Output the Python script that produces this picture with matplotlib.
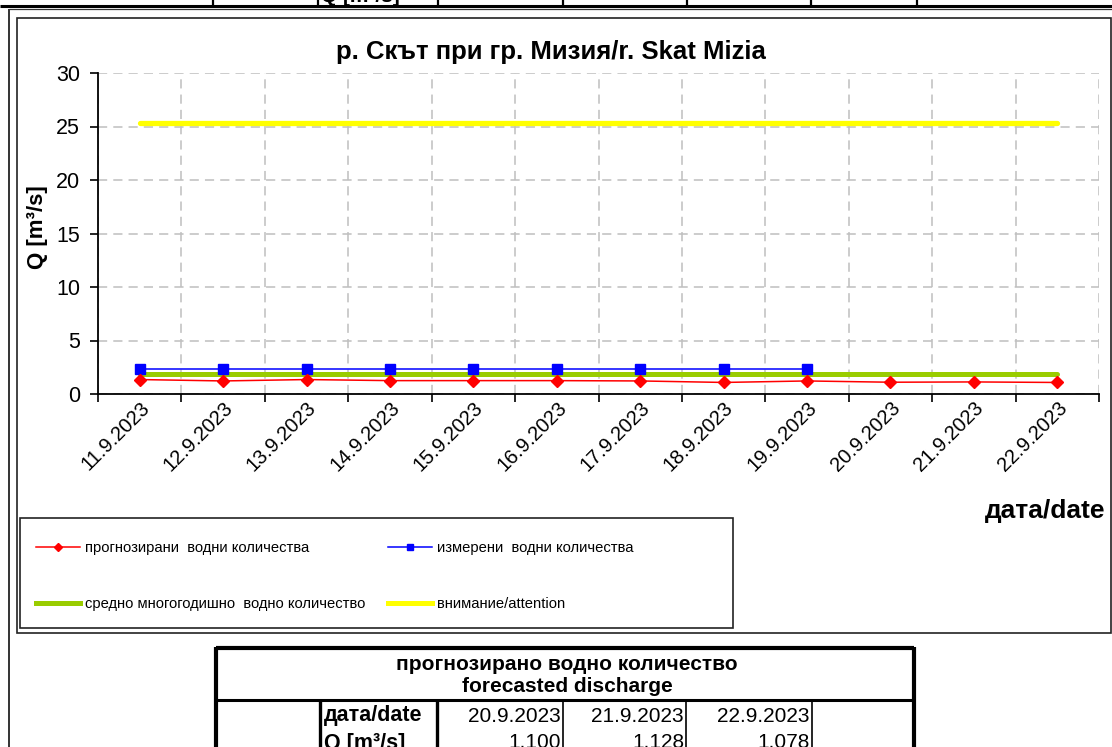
import matplotlib
matplotlib.use("Agg")
import matplotlib.pyplot as plt
from matplotlib.lines import Line2D
from matplotlib.patches import Rectangle

plt.rcParams['font.family'] = ['Liberation Sans', 'DejaVu Sans']

# --- DATOS ---
FECHAS = ["11.9.2023", "12.9.2023", "13.9.2023", "14.9.2023", "15.9.2023", "16.9.2023",
          "17.9.2023", "18.9.2023", "19.9.2023", "20.9.2023", "21.9.2023", "22.9.2023"]
PRONOSTICO = [1.35, 1.22, 1.35, 1.25, 1.25, 1.25, 1.22, 1.08, 1.22, 1.100, 1.128, 1.078]
MEDIDO = [2.3, 2.3, 2.3, 2.3, 2.3, 2.3, 2.3, 2.3, 2.3]
PROMEDIO = 1.85
ATENCION = 25.3
FECHAS_TABLA = ["20.9.2023", "21.9.2023", "22.9.2023"]
Q_TABLA = ["1.100", "1.128", "1.078"]

W, H = 1112, 747


def fx(x):
    return x / W


def fy(y):
    return 1 - y / H


def linea(fig, x0, y0, x1, y1, lw=1.0, color='black'):
    fig.add_artist(Line2D([fx(x0), fx(x1)], [fy(y0), fy(y1)], lw=lw, color=color,
                          transform=fig.transFigure, solid_capstyle='butt'))


fig = plt.figure(figsize=(W / 100, H / 100), dpi=100)

# --- marcos / tabla superior recortada ---
linea(fig, 0, 5.5, W, 5.5, lw=2.2)
for x in [213, 318, 438, 563, 687, 811, 917]:
    linea(fig, x, 0, x, 5.5, lw=1.6)
fig.text(fx(321), fy(2.0), "Q [m³/s]", fontsize=15, fontweight='bold', va='baseline')
linea(fig, 9, 8.5, W, 8.5, lw=0.9, color='#333333')
linea(fig, 9, 8.5, 9, H, lw=1.4, color='#333333')
fig.add_artist(Rectangle((fx(16.5), fy(633)), fx(1111 - 16.5), (633 - 18) / H,
                         fill=False, lw=1.2, edgecolor='#222222', transform=fig.transFigure))

# --- grafico ---
ax = fig.add_axes([fx(98), fy(394), fx(1001), 321 / H])
x = list(range(len(FECHAS)))
ax.plot(x, [ATENCION] * len(x), color='#FFFF00', lw=3.8, solid_capstyle='round', zorder=3)
ax.plot(x, [PROMEDIO] * len(x), color='#99CC00', lw=3.6, solid_capstyle='round', zorder=3)
ax.plot(x[:len(MEDIDO)], MEDIDO, color='#0000FF', lw=1.1, marker='s', ms=7, zorder=4)
ax.plot(x, PRONOSTICO, color='#FF0000', lw=1.1, marker='D', ms=6, zorder=5)

ax.set_xlim(-0.5, len(FECHAS) - 0.5)
ax.set_ylim(0, 30)
ax.set_yticks(range(0, 31, 5))
ax.set_xticks([i - 0.5 for i in range(len(FECHAS) + 1)])
ax.set_xticklabels([])
ax.set_xticks(x, minor=True)
ax.set_xticklabels(FECHAS, minor=True, rotation=45, ha='right', va='top',
                   rotation_mode='anchor', fontsize=14.5)
ax.tick_params(axis='x', which='major', length=6, width=1.2, direction='out')
ax.tick_params(axis='x', which='minor', length=0, pad=3)
ax.tick_params(axis='y', length=6, width=1.2, direction='out', labelsize=15.5, pad=7)
ax.grid(True, which='major', color='#BFBFBF', linestyle=(0, (6, 4)), lw=1.1)
for s in ['top', 'right']:
    ax.spines[s].set_visible(False)
for s in ['left', 'bottom']:
    ax.spines[s].set_linewidth(1.3)
ax.set_axisbelow(True)

fig.text(fx(551), fy(52), "р. Скът при гр. Мизия/r. Skat Mizia", fontsize=18.5,
         fontweight='bold', ha='center', va='center')
fig.text(fx(37), fy(227), "Q [m³/s]", fontsize=16, fontweight='bold', rotation=90,
         ha='center', va='center')
fig.text(fx(1105), fy(511), "дата/date", fontsize=19, fontweight='bold', ha='right', va='center')

# --- leyenda ---
fig.add_artist(Rectangle((fx(20), fy(628)), fx(733 - 20), (628 - 518) / H,
                         fill=False, lw=1.2, edgecolor='#222222', transform=fig.transFigure))
h_rojo = Line2D([], [], color='#FF0000', lw=1.1, marker='D', ms=4)
h_azul = Line2D([], [], color='#0000FF', lw=1.1, marker='s', ms=5)
h_verde = Line2D([], [], color='#99CC00', lw=3.6)
h_amar = Line2D([], [], color='#FFFF00', lw=3.6)
kw = dict(frameon=False, fontsize=10.6, handlelength=3.0, handletextpad=0.3,
          labelspacing=2.85, borderpad=0, loc='upper left', borderaxespad=0)
leg1 = fig.legend([h_rojo, h_verde], ["прогнозирани  водни количества",
                                      "средно многогодишно  водно количество"],
                  bbox_to_anchor=(fx(36), fy(541)), **kw)
leg2 = fig.legend([h_azul, h_amar], ["измерени  водни количества", "внимание/attention"],
                  bbox_to_anchor=(fx(388), fy(541)), **kw)

# --- tabla inferior ---
linea(fig, 216, 648, 914, 648, lw=3)
linea(fig, 216, 646.5, 216, H, lw=3)
linea(fig, 914, 646.5, 914, H, lw=3)
linea(fig, 216, 700, 914, 700, lw=2.2)
for xx, lw in [(320, 2.4), (437, 2.4), (563, 1.2), (686, 1.2), (812, 1.2)]:
    linea(fig, xx, 700, xx, H, lw=lw)
fig.text(fx(567), fy(664), "прогнозирано водно количество", fontsize=15,
         fontweight='bold', ha='center', va='center')
fig.text(fx(567), fy(687), "forecasted discharge", fontsize=15,
         fontweight='bold', ha='center', va='center')
fig.text(fx(324), fy(716), "дата/date", fontsize=15.5, fontweight='bold', va='center')
fig.text(fx(324), fy(743), "Q [m³/s]", fontsize=15.5, fontweight='bold', va='center')
for xr, f, q in zip([561, 684, 810], FECHAS_TABLA, Q_TABLA):
    fig.text(fx(xr), fy(716), f, fontsize=15, ha='right', va='center')
    fig.text(fx(xr), fy(742), q, fontsize=15, ha='right', va='center')

fig.savefig("out.png", dpi=100)
